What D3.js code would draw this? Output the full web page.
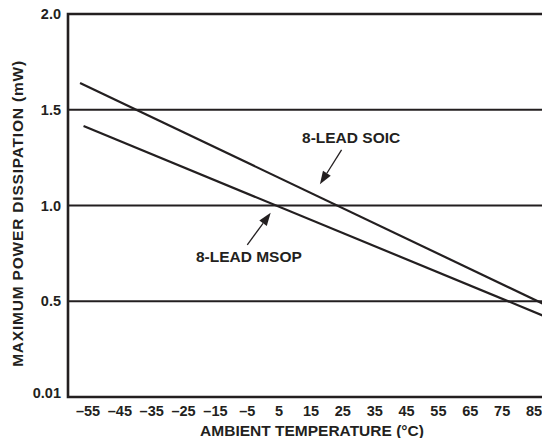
<!DOCTYPE html>
<html>
<head>
<meta charset="utf-8">
<script src="https://cdn.jsdelivr.net/npm/d3@7"></script>
<style>
  body { margin: 0; background: #fff; }
  text { font-family: "Liberation Sans", Arial, Helvetica, sans-serif; font-weight: bold; fill: #231f20; }
</style>
</head>
<body>
<div id="chart"></div>
<script>
// values
const xTicks = [-55, -45, -35, -25, -15, -5, 5, 15, 25, 35, 45, 55, 65, 75, 85];
const yTicks = [0, 0.5, 1.0, 1.5, 2.0];
const yTickLabels = ["0.01", "0.5", "1.0", "1.5", "2.0"];

const soicTemp = [-57.5, 90];
const soicPower = [1.64, 0.47];
const msopTemp = [-56.4, 90];
const msopPower = [1.415, 0.41];

// annotations in data units: label anchor, arrow tail, arrow tip
const soicNote = { text: "8-LEAD SOIC", at: [27.6, 1.326], tail: [24.6, 1.290], tip: [17.8, 1.111] };
const msopNote = { text: "8-LEAD MSOP", at: [-4.5, 0.705], tail: [-5.0, 0.794], tip: [2.35, 0.962] };

const width = 542;
const height = 438;
const mLeft = 68, mTop = 14, mBottom = 397, mRight = 542;
const ink = "#231f20";

const x = d3.scaleLinear().domain([-55, 85]).range([88, 534]);
const y = d3.scaleLinear().domain([0, 2]).range([mBottom, mTop]);

const svg = d3.select("#chart")
    .append("svg")
    .attr("width", width)
    .attr("height", height);

// horizontal grid lines
svg.append("g")
    .selectAll("line")
    .data(yTicks.filter(d => d > 0 && d < 2))
    .join("line")
    .attr("x1", mLeft).attr("x2", mRight)
    .attr("y1", d => y(d)).attr("y2", d => y(d))
    .attr("stroke", ink)
    .attr("stroke-width", 2);

// frame: top, left, bottom
svg.append("path")
    .attr("d", `M${mRight},${y(2)}H${mLeft}V${y(0)}H${mRight}`)
    .attr("fill", "none")
    .attr("stroke", ink)
    .attr("stroke-width", 2.6);

// y tick labels
svg.append("g")
    .selectAll("text")
    .data(yTicks)
    .join("text")
    .attr("x", 61)
    .attr("y", d => y(d))
    .attr("dy", d => d === 0 ? "0.1em" : "0.36em")
    .attr("text-anchor", "end")
    .style("font-size", "14.5px")
    .text((d, i) => yTickLabels[i]);

// x tick labels
svg.append("g")
    .selectAll("text")
    .data(xTicks)
    .join("text")
    .attr("x", d => x(d))
    .attr("y", 416)
    .attr("text-anchor", "middle")
    .style("font-size", "14.5px")
    .text(d => d < 0 ? "\u2013" + Math.abs(d) : d);

// axis titles
svg.append("text")
    .attr("x", 312)
    .attr("y", 436)
    .attr("text-anchor", "middle")
    .style("font-size", "15.5px")
    .text("AMBIENT TEMPERATURE (°C)");

svg.append("text")
    .attr("transform", `translate(23,${(mTop + mBottom) / 2 + 8}) rotate(-90)`)
    .attr("text-anchor", "middle")
    .style("font-size", "15.5px")
    .style("letter-spacing", "0.8px")
    .text("MAXIMUM POWER DISSIPATION (mW)");

// data lines
const line = d3.line().x(d => x(d[0])).y(d => y(d[1]));
const series = [
    d3.zip(soicTemp, soicPower),
    d3.zip(msopTemp, msopPower)
];
svg.append("g")
    .selectAll("path")
    .data(series)
    .join("path")
    .attr("d", line)
    .attr("fill", "none")
    .attr("stroke", ink)
    .attr("stroke-width", 2.2);

// annotations with arrows
function note(n) {
    svg.append("text")
        .attr("x", x(n.at[0]))
        .attr("y", y(n.at[1]))
        .attr("text-anchor", "middle")
        .style("font-size", "15.5px")
        .text(n.text);

    const x0 = x(n.tail[0]), y0 = y(n.tail[1]);
    const x1 = x(n.tip[0]), y1 = y(n.tip[1]);
    const a = Math.atan2(y1 - y0, x1 - x0);
    const len = 13, half = 4.6;
    const bx = x1 - len * Math.cos(a), by = y1 - len * Math.sin(a);

    svg.append("line")
        .attr("x1", x0).attr("y1", y0)
        .attr("x2", bx).attr("y2", by)
        .attr("stroke", ink)
        .attr("stroke-width", 1.3);

    svg.append("path")
        .attr("d", `M${x1},${y1}L${bx + half * Math.sin(a)},${by - half * Math.cos(a)}L${bx - half * Math.sin(a)},${by + half * Math.cos(a)}Z`)
        .attr("fill", ink);
}
note(soicNote);
note(msopNote);
</script>
</body>
</html>
